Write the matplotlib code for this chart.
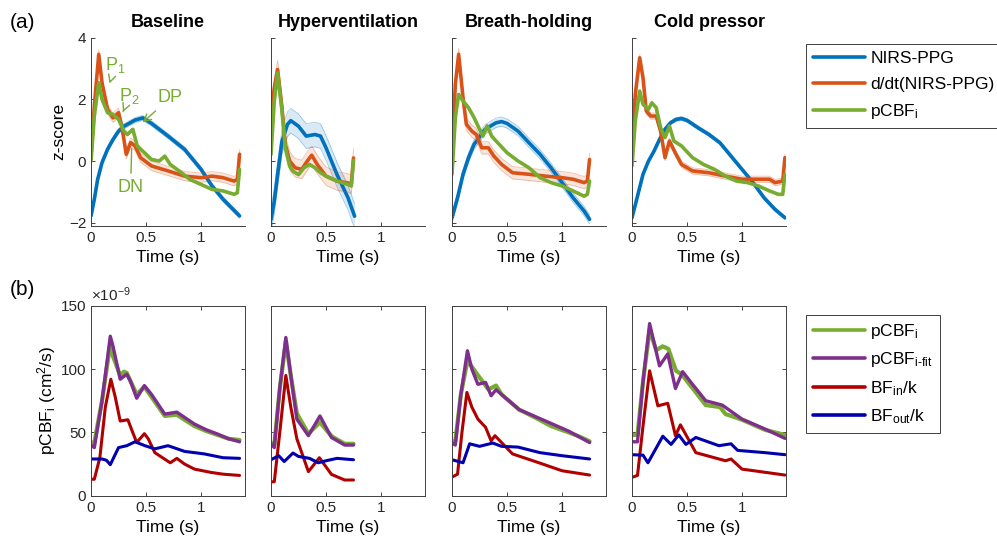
import numpy as np
import matplotlib
matplotlib.use('Agg')
import matplotlib.pyplot as plt
from matplotlib.lines import Line2D

plt.rcParams.update({'font.family': ['Liberation Sans', 'DejaVu Sans'],
                     'mathtext.default': 'regular',
                     'lines.solid_joinstyle': 'round',
                     'lines.solid_capstyle': 'round'})

# ------------------------------------------------------------
# Data: (time s, value) pairs
# ------------------------------------------------------------
conditions = ['Baseline', 'Hyperventilation', 'Breath-holding', 'Cold pressor']

# (a) z-scored waveforms
base_nirs = [(0, -1.78), (0.03, -1.24), (0.06, -0.6), (0.1, -0.05), (0.15, 0.38), (0.2, 0.7),
             (0.25, 0.97), (0.3, 1.13), (0.4, 1.33), (0.47, 1.4), (0.55, 1.22), (0.7, 0.81),
             (0.85, 0.38), (1.0, -0.27), (1.1, -0.81), (1.2, -1.24), (1.35, -1.78)]
base_deriv = [(0, 0.16), (0.03, 1.78), (0.07, 3.46), (0.1, 2.54), (0.15, 1.68), (0.2, 1.4),
              (0.25, 1.57), (0.28, 1.13), (0.32, 0.22), (0.36, 0.6), (0.4, 0.49), (0.45, 0.11),
              (0.55, -0.16), (0.7, -0.32), (0.85, -0.49), (1.0, -0.54), (1.1, -0.49),
              (1.2, -0.54), (1.3, -0.65), (1.33, -0.6), (1.35, 0.22)]
base_pcbf = [(0, 0.0), (0.03, 1.46), (0.07, 2.54), (0.1, 2.0), (0.15, 1.57), (0.2, 1.51),
             (0.25, 1.35), (0.3, 0.97), (0.33, 0.86), (0.38, 1.03), (0.42, 0.49), (0.5, 0.22),
             (0.55, 0.05), (0.62, 0.0), (0.67, 0.16), (0.72, -0.11), (0.8, -0.32), (0.9, -0.6),
             (1.0, -0.76), (1.1, -0.92), (1.2, -0.97), (1.3, -1.08), (1.33, -1.03), (1.35, -0.27)]

hyper_nirs = [(0, -1.9), (0.03, -1.3), (0.06, -0.44), (0.1, 0.64), (0.15, 1.19), (0.18, 1.31),
              (0.25, 1.13), (0.32, 0.81), (0.4, 0.86), (0.45, 0.81), (0.5, 0.43), (0.6, -0.44),
              (0.7, -1.19), (0.76, -1.79)]
hyper_deriv = [(0, 1.4), (0.03, 2.37), (0.06, 2.97), (0.1, 1.73), (0.13, 0.54), (0.17, 0.0),
               (0.22, -0.22), (0.28, -0.27), (0.33, 0.0), (0.37, 0.19), (0.42, -0.11),
               (0.5, -0.49), (0.6, -0.65), (0.7, -0.71), (0.73, -0.76), (0.75, 0.1)]
hyper_pcbf = [(0, 0.21), (0.03, 1.94), (0.06, 2.86), (0.1, 1.62), (0.13, 0.43), (0.17, -0.17),
              (0.2, -0.33), (0.25, -0.44), (0.3, -0.22), (0.35, -0.11), (0.4, -0.22),
              (0.45, -0.38), (0.5, -0.49), (0.6, -0.65), (0.7, -0.76), (0.73, -0.81), (0.75, 0.02)]

breath_nirs = [(0, -1.84), (0.05, -1.19), (0.1, -0.43), (0.15, 0.11), (0.2, 0.54), (0.3, 1.03),
               (0.4, 1.24), (0.45, 1.28), (0.5, 1.22), (0.6, 0.97), (0.7, 0.59), (0.8, 0.22),
               (0.9, -0.22), (1.0, -0.7), (1.1, -1.19), (1.2, -1.62), (1.25, -1.89)]
breath_deriv = [(0, 0.32), (0.03, 2.49), (0.06, 3.46), (0.1, 2.05), (0.13, 1.19), (0.18, 0.97),
                (0.22, 0.86), (0.27, 0.43), (0.33, 0.43), (0.38, 0.16), (0.45, -0.11),
                (0.55, -0.38), (0.7, -0.43), (0.85, -0.49), (1.0, -0.54), (1.1, -0.59),
                (1.2, -0.7), (1.23, -0.65), (1.25, 0.05)]
breath_pcbf = [(0, -0.43), (0.03, 1.41), (0.06, 2.16), (0.1, 1.95), (0.15, 1.73), (0.2, 1.41),
               (0.25, 1.03), (0.28, 0.81), (0.32, 1.14), (0.36, 0.81), (0.4, 0.65), (0.5, 0.27),
               (0.6, 0.0), (0.7, -0.22), (0.8, -0.54), (0.9, -0.7), (1.0, -0.81), (1.1, -0.97),
               (1.2, -1.14), (1.23, -1.08), (1.25, -0.65)]

cold_nirs = [(0, -1.84), (0.05, -1.14), (0.1, -0.43), (0.15, 0.0), (0.2, 0.32), (0.25, 0.7),
             (0.3, 1.03), (0.35, 1.24), (0.4, 1.35), (0.45, 1.38), (0.5, 1.32), (0.6, 1.08),
             (0.7, 0.86), (0.8, 0.59), (0.9, 0.16), (1.0, -0.27), (1.1, -0.7), (1.2, -1.19),
             (1.3, -1.57), (1.39, -1.84)]
cold_deriv = [(0, 0.38), (0.03, 2.16), (0.07, 3.35), (0.1, 2.7), (0.13, 1.62), (0.17, 1.46),
              (0.22, 1.46), (0.26, 0.97), (0.3, 0.11), (0.34, 0.65), (0.4, 0.22), (0.45, -0.11),
              (0.55, -0.32), (0.7, -0.38), (0.85, -0.49), (1.0, -0.59), (1.1, -0.59),
              (1.25, -0.59), (1.3, -0.7), (1.37, -0.65), (1.39, 0.11)]
cold_pcbf = [(0, -0.16), (0.03, 1.3), (0.07, 2.27), (0.1, 1.84), (0.15, 1.68), (0.18, 1.89),
             (0.22, 1.73), (0.26, 1.08), (0.3, 0.76), (0.34, 1.14), (0.38, 0.65), (0.45, 0.49),
             (0.55, 0.11), (0.65, -0.11), (0.75, -0.27), (0.85, -0.49), (0.95, -0.65),
             (1.05, -0.7), (1.15, -0.81), (1.25, -0.97), (1.33, -1.08), (1.37, -1.08), (1.39, -0.43)]

# standard deviation of the shaded bands, one per condition
nirs_sd = [0.08, 0.4, 0.15, 0.06]
deriv_sd = [0.15, 0.3, 0.2, 0.1]

# (b) pCBF_i and fitted components (x 1e-9 cm^2/s)
base_meas = [(0, 42), (0.03, 42), (0.1, 75), (0.175, 120), (0.2, 110), (0.265, 95), (0.3, 98),
             (0.325, 97), (0.415, 80), (0.485, 86), (0.55, 78), (0.67, 63), (0.78, 64),
             (0.85, 60), (0.94, 55), (1.05, 51), (1.15, 48), (1.25, 45), (1.35, 44)]
base_fit = [(0, 40), (0.03, 38), (0.1, 75), (0.175, 126), (0.2, 118), (0.265, 92), (0.325, 96),
            (0.36, 90), (0.415, 77), (0.485, 87), (0.55, 80), (0.67, 64.5), (0.78, 66),
            (0.94, 56.6), (1.05, 52), (1.15, 48.7), (1.25, 45), (1.35, 42.6)]
base_bfin = [(0, 13), (0.03, 13), (0.08, 30), (0.13, 70), (0.18, 92), (0.22, 78), (0.265, 59),
             (0.335, 60), (0.37, 52), (0.415, 42), (0.485, 49), (0.52, 45), (0.58, 34),
             (0.72, 26), (0.78, 29.5), (0.85, 25), (0.94, 21), (1.09, 18.4), (1.2, 17),
             (1.35, 16)]
base_bfout = [(0, 29), (0.05, 29), (0.1, 29), (0.14, 28), (0.175, 24.5), (0.25, 38),
              (0.325, 39.5), (0.4, 42.6), (0.49, 39.5), (0.58, 37), (0.7, 39.5), (0.85, 35),
              (1.03, 33), (1.2, 30), (1.35, 29.5)]

hyper_meas = [(0, 42), (0.03, 40), (0.08, 85), (0.135, 122), (0.18, 95), (0.235, 65),
              (0.3, 55), (0.34, 49), (0.445, 58), (0.55, 47), (0.67, 41), (0.75, 41)]
hyper_fit = [(0, 41), (0.03, 38), (0.08, 85), (0.135, 125), (0.18, 95), (0.235, 60.5),
             (0.34, 47.4), (0.445, 63), (0.55, 46), (0.67, 40), (0.75, 40)]
hyper_bfin = [(0, 11), (0.03, 11), (0.08, 50), (0.135, 95), (0.18, 70), (0.235, 45),
              (0.34, 19), (0.44, 30), (0.55, 16.8), (0.67, 12.4), (0.75, 12.4)]
hyper_bfout = [(0, 28.4), (0.07, 31.6), (0.12, 27), (0.2, 33.7), (0.25, 31), (0.35, 29.5),
               (0.43, 26), (0.5, 27.6), (0.6, 29.5), (0.75, 28.4)]

breath_meas = [(0, 43), (0.03, 43), (0.08, 80), (0.14, 106.6), (0.25, 93.4), (0.33, 84),
               (0.4, 87), (0.45, 80), (0.61, 68), (0.75, 62), (0.9, 55), (1.06, 50),
               (1.15, 47), (1.25, 43)]
breath_fit = [(0, 41.6), (0.03, 40), (0.08, 80), (0.14, 114.5), (0.18, 100), (0.235, 88),
              (0.305, 89.5), (0.355, 79), (0.4, 83.7), (0.61, 68), (0.85, 59), (1.06, 51),
              (1.25, 42)]
breath_bfin = [(0, 14.7), (0.05, 17), (0.09, 50), (0.135, 81.6), (0.18, 70), (0.235, 60.5),
               (0.305, 54), (0.355, 43.4), (0.39, 47.4), (0.55, 33), (0.79, 26), (1.0, 19.7),
               (1.25, 16.3)]
breath_bfout = [(0, 28.4), (0.1, 26), (0.16, 41), (0.25, 39), (0.37, 41.6), (0.45, 39),
                (0.6, 38.4), (0.8, 34), (1.0, 31.6), (1.25, 29)]

cold_meas = [(0, 48), (0.05, 48), (0.1, 90), (0.16, 131), (0.22, 115), (0.28, 118),
             (0.33, 116), (0.4, 98.7), (0.45, 96), (0.55, 85), (0.67, 71.6), (0.8, 70),
             (0.85, 64.5), (1.0, 60), (1.21, 52), (1.39, 48)]
cold_fit = [(0, 42.6), (0.05, 42.6), (0.1, 90), (0.16, 136), (0.25, 102.6), (0.325, 112),
            (0.395, 84.7), (0.46, 98), (0.55, 88), (0.67, 75), (0.82, 71.6), (1.0, 60.5),
            (1.21, 52.6), (1.39, 45.3)]
cold_bfin = [(0, 14.5), (0.05, 16), (0.1, 55), (0.16, 98.7), (0.235, 71), (0.325, 73),
             (0.395, 47.4), (0.44, 56), (0.58, 34), (0.85, 27.6), (0.9, 29), (1.0, 21),
             (1.39, 16.3)]
cold_bfout = [(0, 32.4), (0.1, 32), (0.145, 26), (0.28, 47), (0.355, 40.5), (0.425, 48),
              (0.49, 40.5), (0.58, 46), (0.79, 39.5), (0.9, 41), (0.96, 35.8), (1.21, 34),
              (1.39, 32.4)]

nirs_all = [base_nirs, hyper_nirs, breath_nirs, cold_nirs]
deriv_all = [base_deriv, hyper_deriv, breath_deriv, cold_deriv]
pcbf_all = [base_pcbf, hyper_pcbf, breath_pcbf, cold_pcbf]
meas_all = [base_meas, hyper_meas, breath_meas, cold_meas]
fit_all = [base_fit, hyper_fit, breath_fit, cold_fit]
bfin_all = [base_bfin, hyper_bfin, breath_bfin, cold_bfin]
bfout_all = [base_bfout, hyper_bfout, breath_bfout, cold_bfout]

C_BLUE, C_ORANGE, C_GREEN = '#0072BD', '#D95319', '#77AC30'
C_PURPLE, C_RED, C_DBLUE = '#7E2F8E', '#B00000', '#0000B0'
AX_COLOR = '#262626'


def xy(series):
    arr = np.array(series, dtype=float)
    return arr[:, 0], arr[:, 1]


def style_axis(ax):
    ax.set_xlim(0, 1.4)
    ax.set_xticks([0, 0.5, 1])
    ax.set_xticklabels(['0', '0.5', '1'])
    ax.tick_params(direction='in', length=3, labelsize=11, colors=AX_COLOR, width=0.6)
    ax.set_xlabel('Time (s)', fontsize=12.5, labelpad=4)
    for s in ax.spines.values():
        s.set_color('#404040')
        s.set_linewidth(0.7)


fig = plt.figure(figsize=(9.97, 5.44), dpi=100)
lefts = [0.0913, 0.2718, 0.4534, 0.6339]
W = 0.1545

# ---------------- (a) ----------------
for i, name in enumerate(conditions):
    ax = fig.add_axes([lefts[i], 0.585, W, 0.3456])
    style_axis(ax)
    ax.spines['top'].set_visible(False)
    ax.spines['right'].set_visible(False)
    ax.set_ylim(-2.1, 4)
    ax.set_yticks([-2, 0, 2, 4])
    for series, sd, col in [(nirs_all[i], nirs_sd[i], C_BLUE), (deriv_all[i], deriv_sd[i], C_ORANGE)]:
        t, v = xy(series)
        ax.fill_between(t, v - sd, v + sd, color=col, alpha=0.15, lw=0)
        ax.plot(t, v - sd, color=col, lw=0.6, alpha=0.35)
        ax.plot(t, v + sd, color=col, lw=0.6, alpha=0.35)
        ax.plot(t, v, color=col, lw=2.6)
    t, v = xy(pcbf_all[i])
    ax.plot(t, v, color=C_GREEN, lw=2.6)
    ax.set_title(name, fontsize=13, fontweight='bold', pad=8)
    if i == 0:
        ax.set_ylabel('z-score', fontsize=12.5, labelpad=2)
        kw = dict(color=C_GREEN, fontsize=13, ha='center', va='center')
        ap = dict(arrowstyle='->', color=C_GREEN, lw=1.0)
        ax.annotate('P$_1$', xy=(0.16, 2.43), xytext=(0.22, 3.1), arrowprops=ap, **kw)
        ax.annotate('P$_2$', xy=(0.28, 1.51), xytext=(0.35, 2.1), arrowprops=ap, **kw)
        ax.annotate('DP', xy=(0.45, 1.19), xytext=(0.72, 2.05), arrowprops=ap, **kw)
        ax.annotate('DN', xy=(0.37, 0.49), xytext=(0.36, -0.85),
                    arrowprops=dict(arrowstyle='-', color=C_GREEN, lw=1.0), **kw)
    else:
        ax.set_yticklabels([])

# ---------------- (b) ----------------
for i, name in enumerate(conditions):
    ax = fig.add_axes([lefts[i], 0.0888, W, 0.349])
    style_axis(ax)
    ax.tick_params(top=True, right=True)
    ax.set_ylim(0, 150)
    ax.set_yticks([0, 50, 100, 150])
    t, v = xy(meas_all[i])
    ax.plot(t, v, color=C_GREEN, lw=3.0)
    t, v = xy(fit_all[i])
    ax.plot(t, v, color=C_PURPLE, lw=2.4)
    t, v = xy(bfin_all[i])
    ax.plot(t, v, color=C_RED, lw=2.2)
    t, v = xy(bfout_all[i])
    ax.plot(t, v, color=C_DBLUE, lw=2.2)
    if i == 0:
        ax.set_ylabel('pCBF$_i$ (cm$^2$/s)', fontsize=12.5, labelpad=2)
        ax.text(0.0, 1.01, '×10$^{-9}$', transform=ax.transAxes, fontsize=11,
                ha='left', va='bottom', color=AX_COLOR)
    else:
        ax.set_yticklabels([])

fig.text(0.010, 0.958, '(a)', fontsize=15, va='center')
fig.text(0.010, 0.468, '(b)', fontsize=15, va='center')

leg_kw = dict(loc='upper left', borderaxespad=0, fancybox=False, framealpha=1,
              edgecolor='#404040', fontsize=12.5, handlelength=3.0, handletextpad=0.3,
              borderpad=0.4)
h_top = [Line2D([], [], color=C_BLUE, lw=2.6), Line2D([], [], color=C_ORANGE, lw=2.6),
         Line2D([], [], color=C_GREEN, lw=2.6)]
lg1 = fig.legend(h_top, ['NIRS-PPG', 'd/dt(NIRS-PPG)', 'pCBF$_i$'],
                 bbox_to_anchor=(0.8084, 0.919), labelspacing=0.6, **leg_kw)
lg1.get_frame().set_linewidth(0.7)
h_bot = [Line2D([], [], color=C_GREEN, lw=2.6), Line2D([], [], color=C_PURPLE, lw=2.6),
         Line2D([], [], color=C_RED, lw=2.6), Line2D([], [], color=C_DBLUE, lw=2.6)]
lg2 = fig.legend(h_bot, ['pCBF$_i$', 'pCBF$_{i\u2010fit}$', 'BF$_{in}$/k', 'BF$_{out}$/k'],
                 bbox_to_anchor=(0.8084, 0.421), labelspacing=0.55, **leg_kw)
lg2.get_frame().set_linewidth(0.7)

fig.savefig('out.png', dpi=100)
